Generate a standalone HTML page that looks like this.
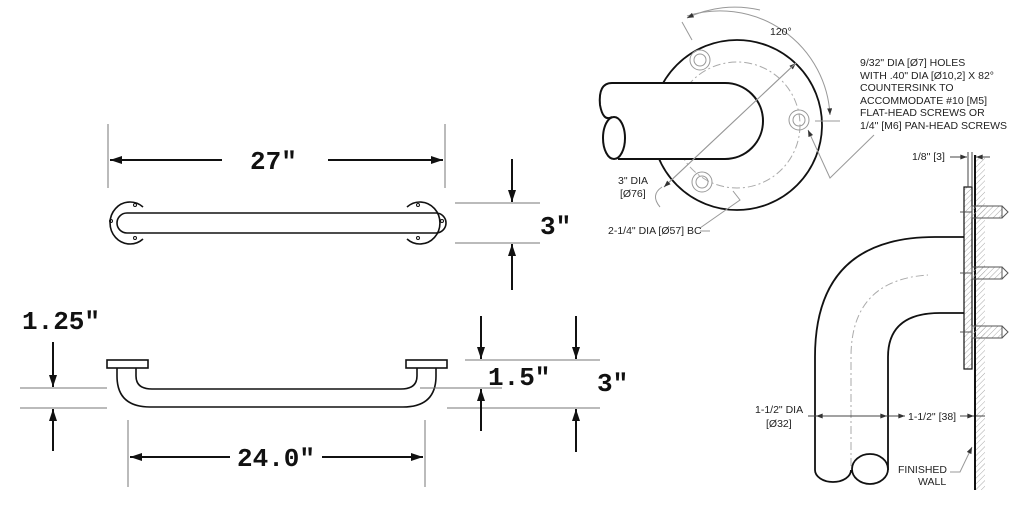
<!DOCTYPE html>
<html><head><meta charset="utf-8"><style>
html,body{margin:0;padding:0;background:#fff;}
svg{display:block;}
.m{font-family:"Liberation Mono",monospace;font-weight:bold;font-size:26px;fill:#111;}
.s{font-family:"Liberation Sans",sans-serif;font-size:10.5px;fill:#222;}
</style></head><body>
<svg width="1025" height="509" viewBox="0 0 1025 509" xmlns="http://www.w3.org/2000/svg">
<defs>
<marker id="a" viewBox="0 0 12 8" refX="12" refY="4" markerWidth="12" markerHeight="8" markerUnits="userSpaceOnUse" orient="auto"><path d="M0,0L12,4L0,8z" fill="#111"/></marker>
<marker id="b" viewBox="0 0 8 6" refX="8" refY="3" markerWidth="7" markerHeight="5" markerUnits="userSpaceOnUse" orient="auto"><path d="M0,0L8,3L0,6z" fill="#333"/></marker>
<pattern id="h" width="4" height="4" patternUnits="userSpaceOnUse" patternTransform="rotate(45)"><line x1="0" y1="0" x2="0" y2="4" stroke="#aaa" stroke-width="1"/></pattern>
</defs>
<g stroke="#111" fill="none">
<g stroke="#777" stroke-width="1"><line x1="108" y1="124" x2="108" y2="188"/><line x1="445" y1="124" x2="445" y2="188"/></g>
<g stroke-width="2"><line x1="222" y1="160" x2="110" y2="160" marker-end="url(#a)"/><line x1="328" y1="160" x2="443" y2="160" marker-end="url(#a)"/></g>
<g stroke-width="1.6">
<path d="M143,207 A20,21 0 1 0 143,239"/>
<path d="M407,207 A20,21 0 1 1 407,239"/>
<path d="M127,213 L436,213 A10,10 0 0 1 436,233 L127,233 A10,10 0 0 1 127,213"/>
</g>
<g stroke-width="1"><circle cx="111" cy="221" r="1.5"/><circle cx="135" cy="205" r="1.5"/><circle cx="135" cy="238" r="1.5"/><circle cx="442" cy="221" r="1.5"/><circle cx="418" cy="205" r="1.5"/><circle cx="418" cy="238" r="1.5"/></g>
<g stroke="#777"><line x1="455" y1="203" x2="540" y2="203"/><line x1="455" y1="243" x2="540" y2="243"/></g>
<g stroke-width="2"><line x1="512" y1="159" x2="512" y2="202" marker-end="url(#a)"/><line x1="512" y1="290" x2="512" y2="244" marker-end="url(#a)"/></g>
<g stroke-width="1.6">
<rect x="107" y="360" width="41" height="8"/><rect x="406" y="360" width="41" height="8"/>
<path d="M117,368 L117,376 Q117,407 150,407 L403,407 Q436,407 436,376 L436,368"/>
<path d="M136,368 L136,376 Q136,389 152,389 L401,389 Q417,389 417,376 L417,368"/>
</g>
<g stroke="#777"><line x1="20" y1="388" x2="107" y2="388"/><line x1="20" y1="408" x2="107" y2="408"/>
<line x1="128" y1="420" x2="128" y2="487"/><line x1="425" y1="420" x2="425" y2="487"/>
<line x1="465" y1="360" x2="600" y2="360"/><line x1="420" y1="388" x2="502" y2="388"/><line x1="447" y1="408" x2="600" y2="408"/></g>
<g stroke-width="2">
<line x1="53" y1="342" x2="53" y2="387" marker-end="url(#a)"/><line x1="53" y1="451" x2="53" y2="409" marker-end="url(#a)"/>
<line x1="230" y1="457" x2="130" y2="457" marker-end="url(#a)"/><line x1="322" y1="457" x2="423" y2="457" marker-end="url(#a)"/>
<line x1="481" y1="316" x2="481" y2="359" marker-end="url(#a)"/><line x1="481" y1="431" x2="481" y2="389" marker-end="url(#a)"/>
<line x1="576" y1="316" x2="576" y2="359" marker-end="url(#a)"/><line x1="576" y1="452" x2="576" y2="409" marker-end="url(#a)"/>
</g>
<circle cx="737" cy="125" r="85" stroke-width="1.8"/>
<circle cx="737" cy="125" r="63" stroke="#aaa" stroke-dasharray="8,3,2,3"/>
<g stroke="#999"><circle cx="700" cy="60" r="10"/><circle cx="700" cy="60" r="6"/><circle cx="799" cy="120" r="10"/><circle cx="799" cy="120" r="6"/><circle cx="702" cy="182" r="10"/><circle cx="702" cy="182" r="6"/></g>
<path d="M612,83 L725,83 A38,38 0 0 1 725,159 L618,159" fill="#fff" stroke-width="2"/>
<path d="M612,83 Q598,83 600,105 Q603,122 612,117" fill="#fff" stroke-width="2"/>
<ellipse cx="614" cy="138" rx="11" ry="21" fill="#fff" stroke-width="2"/>
<g stroke="#999" stroke-width="1">
<line x1="664" y1="187" x2="796" y2="63" marker-end="url(#b)"/><line x1="796" y1="63" x2="664" y2="187" marker-end="url(#b)"/>
<path d="M660,207 Q650,195 662,187"/>
<path d="M687,16 A110,110 0 0 1 830,115" marker-end="url(#b)"/><path d="M760,10 A110,110 0 0 0 687,18" marker-end="url(#b)"/>
<line x1="682" y1="22" x2="692" y2="40"/>
<line x1="815" y1="121" x2="840" y2="121"/>
<path d="M874,135 L830,178 L808,130" marker-end="url(#b)"/>
<path d="M700,231 L710,231"/><path d="M733,191 L740,200 L700,228"/>
</g>
<rect x="975" y="155" width="10" height="335" fill="url(#h)" stroke="none"/>
<line x1="975" y1="155" x2="975" y2="490" stroke-width="2"/>
<rect x="964" y="187" width="8" height="182" fill="url(#h)" stroke-width="1.2"/>
<g stroke="#555" stroke-width="1">
<rect x="972" y="206" width="30" height="12" fill="url(#h)"/><path d="M1002,206 L1008,212 L1002,218"/>
<rect x="972" y="267" width="30" height="12" fill="url(#h)"/><path d="M1002,267 L1008,273 L1002,279"/>
<rect x="972" y="326" width="30" height="12" fill="url(#h)"/><path d="M1002,326 L1008,332 L1002,338"/>
<line x1="960" y1="212" x2="972" y2="212"/><line x1="960" y1="273" x2="972" y2="273"/><line x1="960" y1="332" x2="972" y2="332"/>
</g>
<g stroke-width="1.8">
<path d="M964,237 L935,237 Q815,237 815,357 L815,470 A18,12 0 0 0 851,470"/>
<path d="M964,313 L940,313 Q888,313 888,357 L888,470"/>
<ellipse cx="870" cy="469" rx="18" ry="15" fill="#fff"/>
</g>
<path d="M851,466 L851,357 Q851,280 928,275" stroke="#aaa" stroke-dasharray="8,3,2,3"/>
<g stroke="#444" stroke-width="1">
<line x1="968" y1="152" x2="968" y2="187"/><line x1="972" y1="152" x2="972" y2="187"/>
<line x1="950" y1="157" x2="967" y2="157" marker-end="url(#b)"/><line x1="990" y1="157" x2="976" y2="157" marker-end="url(#b)"/>
<line x1="808" y1="416" x2="888" y2="416"/><line x1="830" y1="416" x2="816" y2="416" marker-end="url(#b)"/><line x1="875" y1="416" x2="887" y2="416" marker-end="url(#b)"/>
<line x1="889" y1="416" x2="905" y2="416" marker-end="url(#b)"/><line x1="960" y1="416" x2="974" y2="416" marker-end="url(#b)"/><line x1="976" y1="416" x2="985" y2="416"/>
<path d="M950,472 L960,472 L972,447" stroke="#999" marker-end="url(#b)"/>
</g>
</g>
<text class="m" x="250" y="169">27″</text>
<text class="m" x="540" y="234">3″</text>
<text class="m" x="22" y="329">1.25″</text>
<text class="m" x="237" y="466">24.0″</text>
<text class="m" x="488" y="385">1.5″</text>
<text class="m" x="597" y="391">3″</text>
<text class="s" x="770" y="35">120°</text>
<text class="s" x="860" y="66">9/32" DIA [Ø7] HOLES</text>
<text class="s" x="860" y="79">WITH .40" DIA [Ø10,2] X 82°</text>
<text class="s" x="860" y="91">COUNTERSINK TO</text>
<text class="s" x="860" y="104">ACCOMMODATE #10 [M5]</text>
<text class="s" x="860" y="116">FLAT-HEAD SCREWS OR</text>
<text class="s" x="860" y="129">1/4" [M6] PAN-HEAD SCREWS</text>
<text class="s" x="618" y="184">3" DIA</text>
<text class="s" x="620" y="197">[Ø76]</text>
<text class="s" x="608" y="234">2-1/4" DIA [Ø57] BC</text>
<text class="s" x="912" y="160">1/8" [3]</text>
<text class="s" x="755" y="413">1-1/2" DIA</text>
<text class="s" x="766" y="427">[Ø32]</text>
<text class="s" x="908" y="420">1-1/2" [38]</text>
<text class="s" x="898" y="473">FINISHED</text>
<text class="s" x="918" y="485">WALL</text>
</svg>
</body></html>
